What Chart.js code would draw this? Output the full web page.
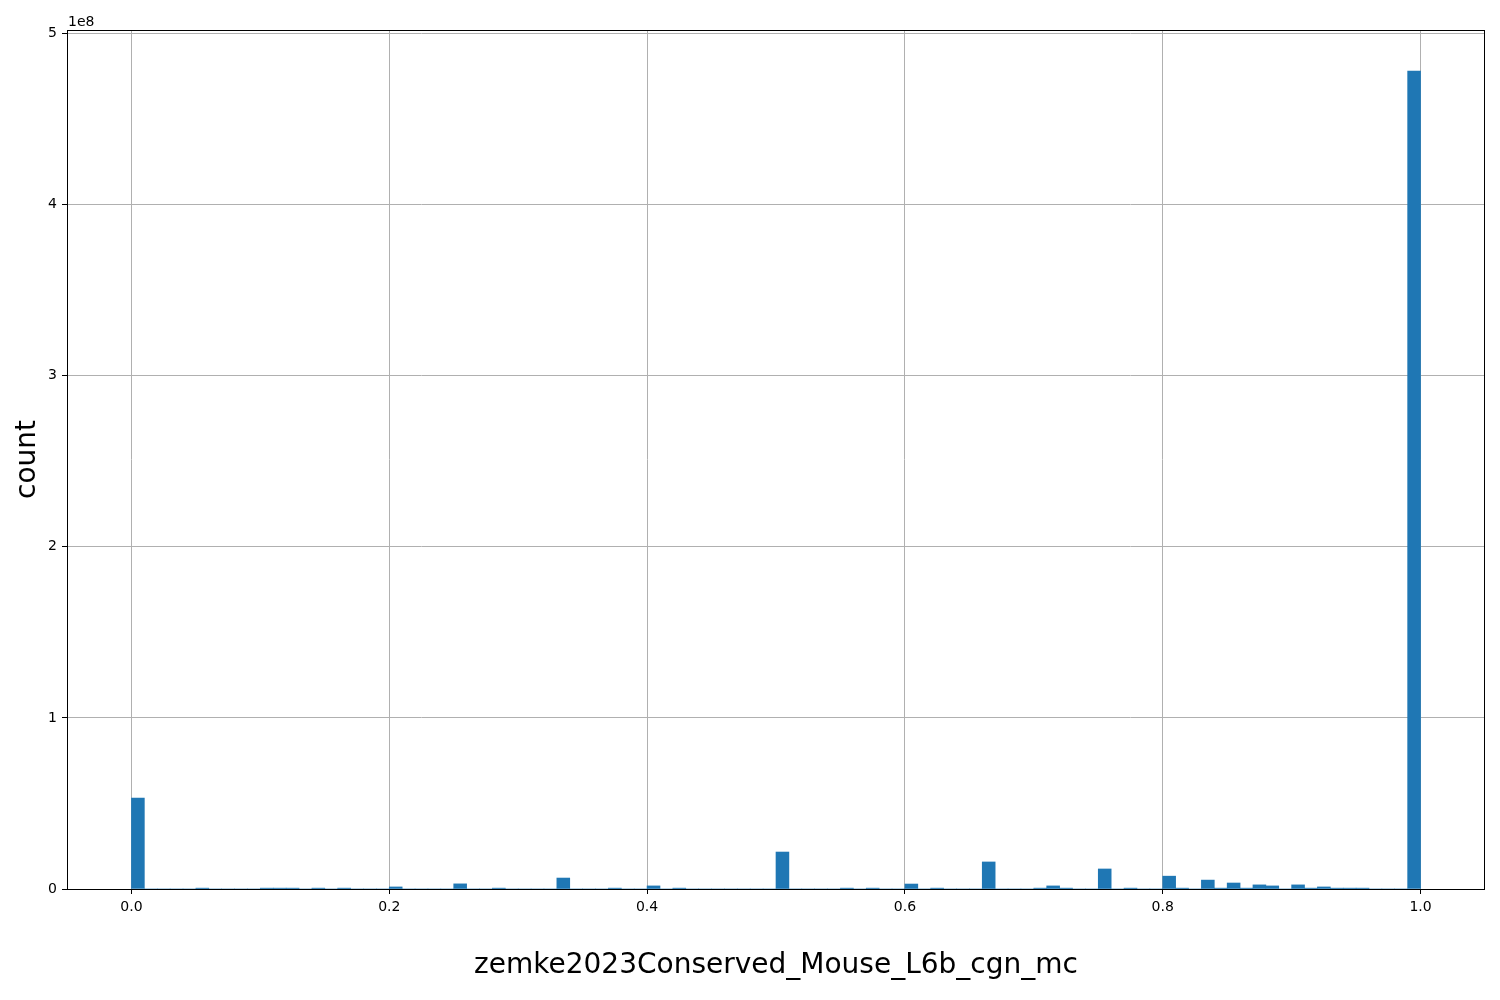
<!DOCTYPE html>
<html>
<head>
<meta charset="utf-8">
<script src="https://cdn.jsdelivr.net/npm/chart.js@4"></script>
<style>
  html, body { margin: 0; padding: 0; background: #fff; }
  #wrap { width: 1500px; height: 1000px; }
</style>
</head>
<body>
<div id="wrap"><canvas id="myChart" width="1500" height="1000"></canvas></div>
<script>
// histogram: 100 bins over [0, 1], only non-empty bins listed
const binCount = 100;
const binWidth = 0.01;
const filledBins = [0, 5, 10, 11, 12, 14, 16, 20, 25, 28, 33, 37, 40, 42, 50, 55, 57, 60, 62, 66,
                    70, 71, 72, 75, 77, 80, 81, 83, 84, 85, 86, 87, 88, 90, 91, 92, 93, 94, 95, 99];
const filledCounts = [5.32e7, 5e5, 5e5, 5e5, 5e5, 5e5, 5e5, 1.2e6, 3.0e6, 5e5, 6.4e6, 5e5, 1.8e6, 5e5, 2.16e7, 5e5, 5e5, 2.9e6, 5e5, 1.58e7,
                      5e5, 1.8e6, 5e5, 1.17e7, 5e5, 7.5e6, 5e5, 5.2e6, 5e5, 3.5e6, 5e5, 2.4e6, 1.8e6, 2.4e6, 5e5, 1.2e6, 5e5, 5e5, 5e5, 4.78e8];
const xTicks = [0.0, 0.2, 0.4, 0.6, 0.8, 1.0];
const yTicks = [0, 1e8, 2e8, 3e8, 4e8, 5e8];
const xLabel = 'zemke2023Conserved_Mouse_L6b_cgn_mc';
const yLabel = 'count';

const counts = new Array(binCount).fill(0);
filledBins.forEach((b, i) => { counts[b] = filledCounts[i]; });
const points = counts.map((c, i) => ({ x: (i + 0.5) * binWidth, y: c }));

const FONT = 'DejaVu Sans';

const frame = {
    id: 'frame',
    afterDraw(chart) {
        const { ctx, chartArea: a } = chart;
        ctx.save();
        ctx.strokeStyle = '#000';
        ctx.lineWidth = 1;
        ctx.strokeRect(Math.round(a.left) + 0.5, Math.round(a.top) + 0.5,
                       Math.round(a.right - a.left) - 1, Math.round(a.bottom - a.top));
        // offset text like matplotlib
        ctx.fillStyle = '#000';
        ctx.font = '14px "' + FONT + '"';
        ctx.textBaseline = 'alphabetic';
        ctx.textAlign = 'left';
        ctx.fillText('1e8', a.left + 1, a.top - 4);
        ctx.restore();
    }
};

new Chart(document.getElementById('myChart'), {
    type: 'bar',
    data: {
        datasets: [{
            data: points,
            backgroundColor: '#1f77b4',
            borderWidth: 0,
            barPercentage: 1.0,
            categoryPercentage: 1.0
        }]
    },
    options: {
        responsive: false,
        animation: false,
        devicePixelRatio: 1,
        layout: { padding: { top: 30, right: 15, bottom: 0, left: 0 } },
        plugins: { legend: { display: false }, tooltip: { enabled: false } },
        scales: {
            x: {
                type: 'linear',
                offset: false,
                min: -0.05,
                max: 1.05,
                afterBuildTicks(scale) { scale.ticks = xTicks.map(v => ({ value: v })); },
                afterFit(scale) { scale.height = 111; },
                grid: { offset: false, color: '#b0b0b0', lineWidth: 1, tickColor: '#000', tickLength: 5, tickWidth: 1 },
                border: { display: false },
                ticks: { color: '#000', font: { family: FONT, size: 14 }, padding: 5, maxRotation: 0,
                          callback: v => v.toFixed(1) },
                title: { display: true, text: xLabel, color: '#000', font: { family: FONT, size: 28 },
                         padding: { top: 0, bottom: 17 } }
            },
            y: {
                min: 0,
                max: 5.02e8,
                afterBuildTicks(scale) { scale.ticks = yTicks.map(v => ({ value: v })); },
                afterFit(scale) { scale.width = 67; },
                grid: { color: '#b0b0b0', lineWidth: 1, tickColor: '#000', tickLength: 5, tickWidth: 1 },
                border: { display: false },
                ticks: { color: '#000', font: { family: FONT, size: 14 }, padding: 5,
                         callback: v => String(Math.round(v / 1e8)) },
                title: { display: true, text: yLabel, color: '#000', font: { family: FONT, size: 28 },
                         padding: { top: 11, bottom: 0 } }
            }
        }
    },
    plugins: [frame]
});
</script>
</body>
</html>
